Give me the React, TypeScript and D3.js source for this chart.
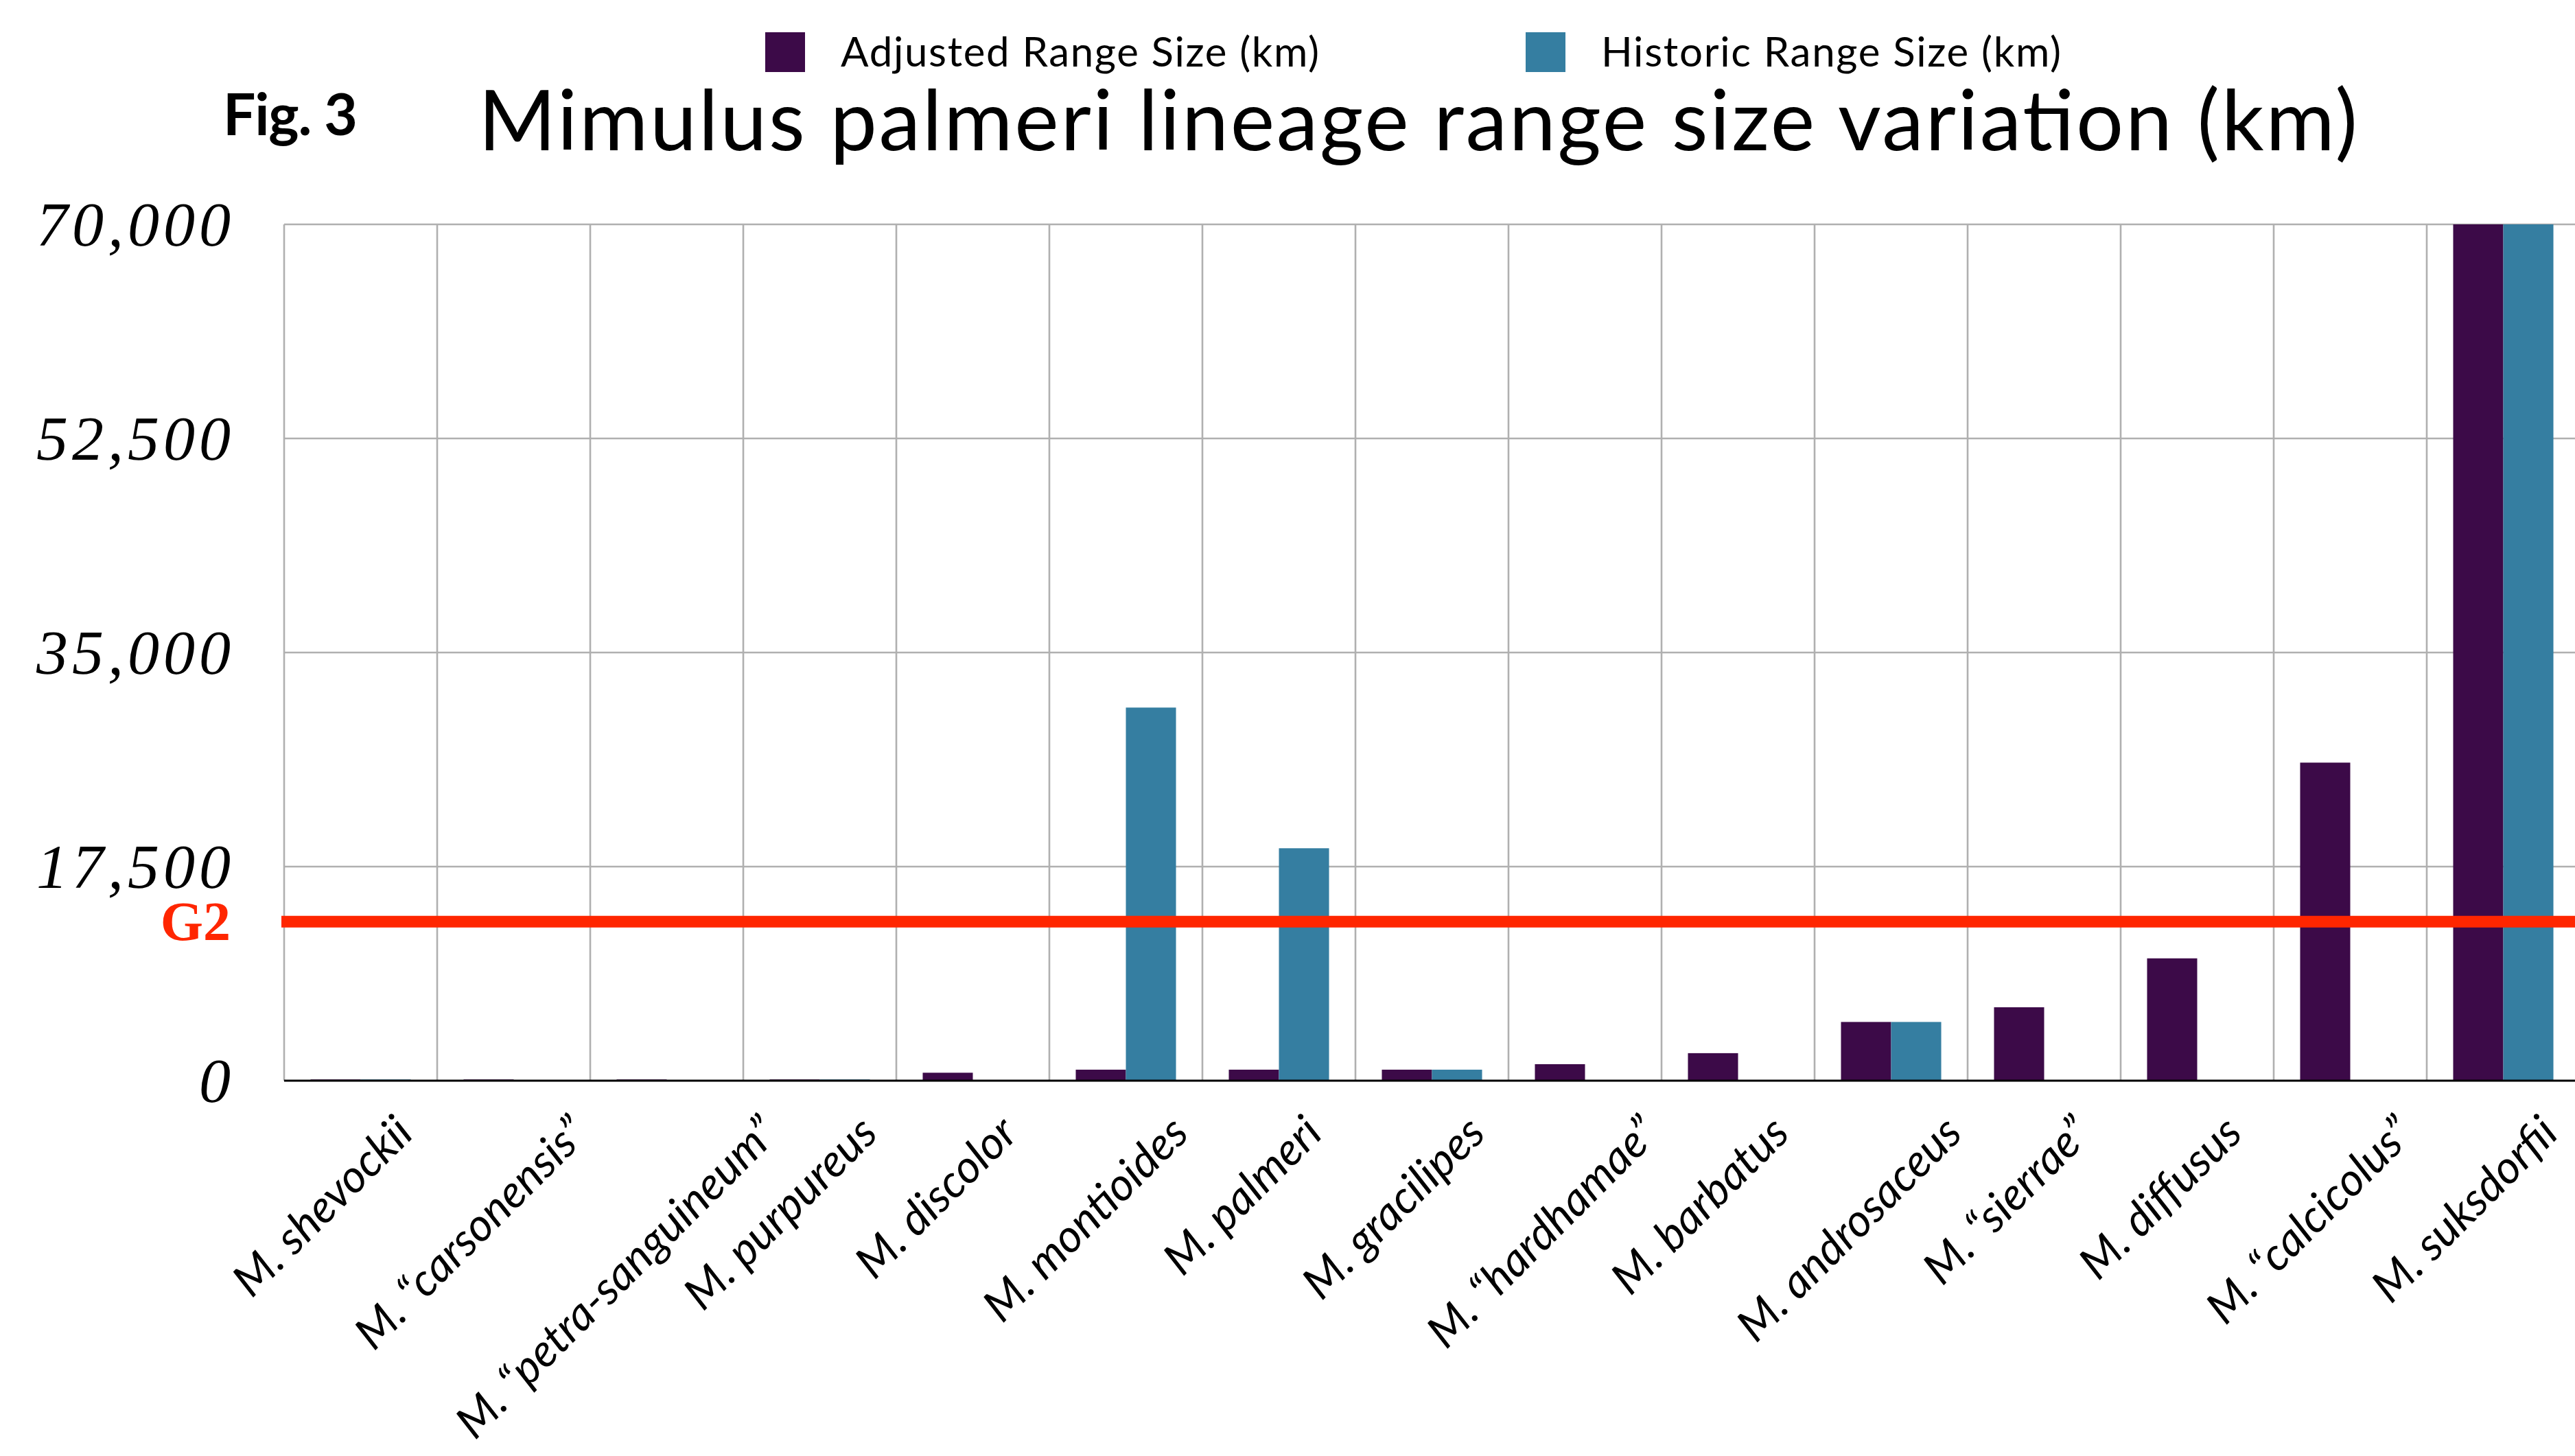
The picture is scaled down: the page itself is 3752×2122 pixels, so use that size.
import React, { useEffect, useRef } from "react";
import * as d3 from "d3";

const species = [
  "M. shevockii",
  "M. \u201ccarsonensis\u201d",
  "M. \u201cpetra-sanguineum\u201d",
  "M. purpureus",
  "M. discolor",
  "M. montioides",
  "M. palmeri",
  "M. gracilipes",
  "M. \u201chardhamae\u201d",
  "M. barbatus",
  "M. androsaceus",
  "M. \u201csierrae\u201d",
  "M. diffusus",
  "M. \u201ccalcicolus\u201d",
  "M. suksdorfii",
];

const adjustedRange = [100, 100, 100, 100, 650, 900, 900, 900, 1350, 2250, 4800, 6000, 10000, 26000, 70000];
const historicRange = [100, 0, 0, 100, 0, 30500, 19000, 900, 0, 0, 4800, 0, 0, 0, 70000];

const seriesNames = ["Adjusted Range Size (km)", "Historic Range Size (km)"];
const seriesColors = ["#3c0a48", "#357ea1"];

const yTicks = [0, 17500, 35000, 52500, 70000];
const g2Value = 13000;

const W = 3752;
const H = 2122;

const App = () => {
  const ref = useRef<SVGSVGElement>(null);

  useEffect(() => {
    if (!ref.current) return;
    const svg = d3.select(ref.current);
    svg.selectAll("*").remove();

    const margin = { top: 327, left: 414, bottom: 1575 };
    const step = 223;
    const right = margin.left + step * species.length;

    const rows = species.map((name, i) => ({
      name,
      values: [adjustedRange[i], historicRange[i]],
    }));

    const x0 = d3.scaleBand().domain(species).range([margin.left, right]).padding(0);
    const x1 = d3
      .scaleBand()
      .domain(seriesNames)
      .range([0, x0.bandwidth()])
      .paddingInner(0)
      .paddingOuter(0.527);
    const y = d3.scaleLinear().domain([0, 70000]).range([margin.bottom, margin.top]);

    const grid = svg.append("g").attr("stroke", "#b0b0b0").attr("stroke-width", 2.6);
    // horizontal grid lines
    grid
      .selectAll("line.h")
      .data(yTicks.filter((t) => t > 0))
      .enter()
      .append("line")
      .attr("x1", margin.left)
      .attr("x2", W)
      .attr("y1", (d) => y(d))
      .attr("y2", (d) => y(d));
    // vertical grid lines at band edges
    grid
      .selectAll("line.v")
      .data(species)
      .enter()
      .append("line")
      .attr("x1", (d) => x0(d)!)
      .attr("x2", (d) => x0(d)!)
      .attr("y1", margin.top)
      .attr("y2", margin.bottom);

    // bars
    const groups = svg
      .append("g")
      .selectAll("g")
      .data(rows)
      .enter()
      .append("g")
      .attr("transform", (d) => `translate(${x0(d.name)},0)`);

    groups
      .selectAll("rect")
      .data((d) => d.values.map((v, j) => ({ key: seriesNames[j], v, j })))
      .enter()
      .append("rect")
      .attr("x", (d) => x1(d.key)!)
      .attr("width", x1.bandwidth())
      .attr("y", (d) => y(d.v))
      .attr("height", (d) => y(0) - y(d.v))
      .attr("fill", (d) => seriesColors[d.j]);

    // baseline
    svg
      .append("line")
      .attr("x1", margin.left)
      .attr("x2", W)
      .attr("y1", y(0))
      .attr("y2", y(0))
      .attr("stroke", "#000")
      .attr("stroke-width", 3);

    // y labels
    svg
      .append("g")
      .selectAll("text")
      .data(yTicks)
      .enter()
      .append("text")
      .attr("x", 342)
      .attr("y", (d) => y(d) + 31)
      .attr("text-anchor", "end")
      .style("font-family", "'Liberation Serif', 'DejaVu Serif', serif")
      .style("font-style", "italic")
      .style("font-size", "92px")
      .style("letter-spacing", "6px")
      .attr("fill", "#000")
      .text((d) => d3.format(",")(d));

    // G2 threshold
    svg
      .append("line")
      .attr("x1", 410)
      .attr("x2", W)
      .attr("y1", y(g2Value))
      .attr("y2", y(g2Value))
      .attr("stroke", "#ff2600")
      .attr("stroke-width", 17);
    svg
      .append("text")
      .attr("x", 336)
      .attr("y", y(g2Value) + 27)
      .attr("text-anchor", "end")
      .style("font-family", "'Liberation Serif', serif")
      .style("font-weight", "bold")
      .style("font-size", "80px")
      .attr("fill", "#ff2600")
      .text("G2");

    // x labels - longer labels sit a little further right
    svg
      .append("g")
      .selectAll("text")
      .data(species)
      .enter()
      .append("text")
      .attr("text-anchor", "end")
      .style("font-family", "Lato, 'Open Sans', sans-serif")
      .style("font-style", "italic")
      .style("font-size", "66px")
      .attr("fill", "#000")
      .text((d) => d)
      .each(function (d) {
        const len = (this as SVGTextElement).getComputedTextLength();
        const cx = x0(d)! + x0.bandwidth() / 2 - 20 + 0.295 * len;
        d3.select(this).attr("transform", `translate(${cx},${margin.bottom + 80}) rotate(-45)`);
      });

    // title
    svg
      .append("text")
      .attr("x", 697)
      .attr("y", 219)
      .attr("textLength", 2738)
      .style("font-family", "Lato, 'Open Sans', sans-serif")
      .style("font-size", "122px")
      .attr("fill", "#000")
      .text("Mimulus palmeri lineage range size variation (km)");

    svg
      .append("text")
      .attr("x", 325)
      .attr("y", 197)
      .attr("textLength", 196)
      .style("font-family", "Lato, 'Open Sans', sans-serif")
      .style("font-weight", "bold")
      .style("font-size", "84px")
      .attr("fill", "#000")
      .text("Fig. 3");

    // legend
    const legendX = [1115, 2223];
    const legendLen = [697, 670];
    const legend = svg
      .append("g")
      .selectAll("g")
      .data(seriesNames)
      .enter()
      .append("g")
      .attr("transform", (d, i) => `translate(${legendX[i]},47)`);
    legend
      .append("rect")
      .attr("width", 58)
      .attr("height", 58)
      .attr("fill", (d, i) => seriesColors[i]);
    legend
      .append("text")
      .attr("x", 110)
      .attr("y", 50)
      .attr("textLength", (d, i) => legendLen[i])
      .style("font-family", "Lato, 'Open Sans', sans-serif")
      .style("font-size", "60px")
      .attr("fill", "#000")
      .text((d) => d);
  }, []);

  return (
    <svg
      ref={ref}
      width={W}
      height={H}
      style={{ position: "absolute", left: 0, top: 0, background: "#fff" }}
    />
  );
};

export default App;
